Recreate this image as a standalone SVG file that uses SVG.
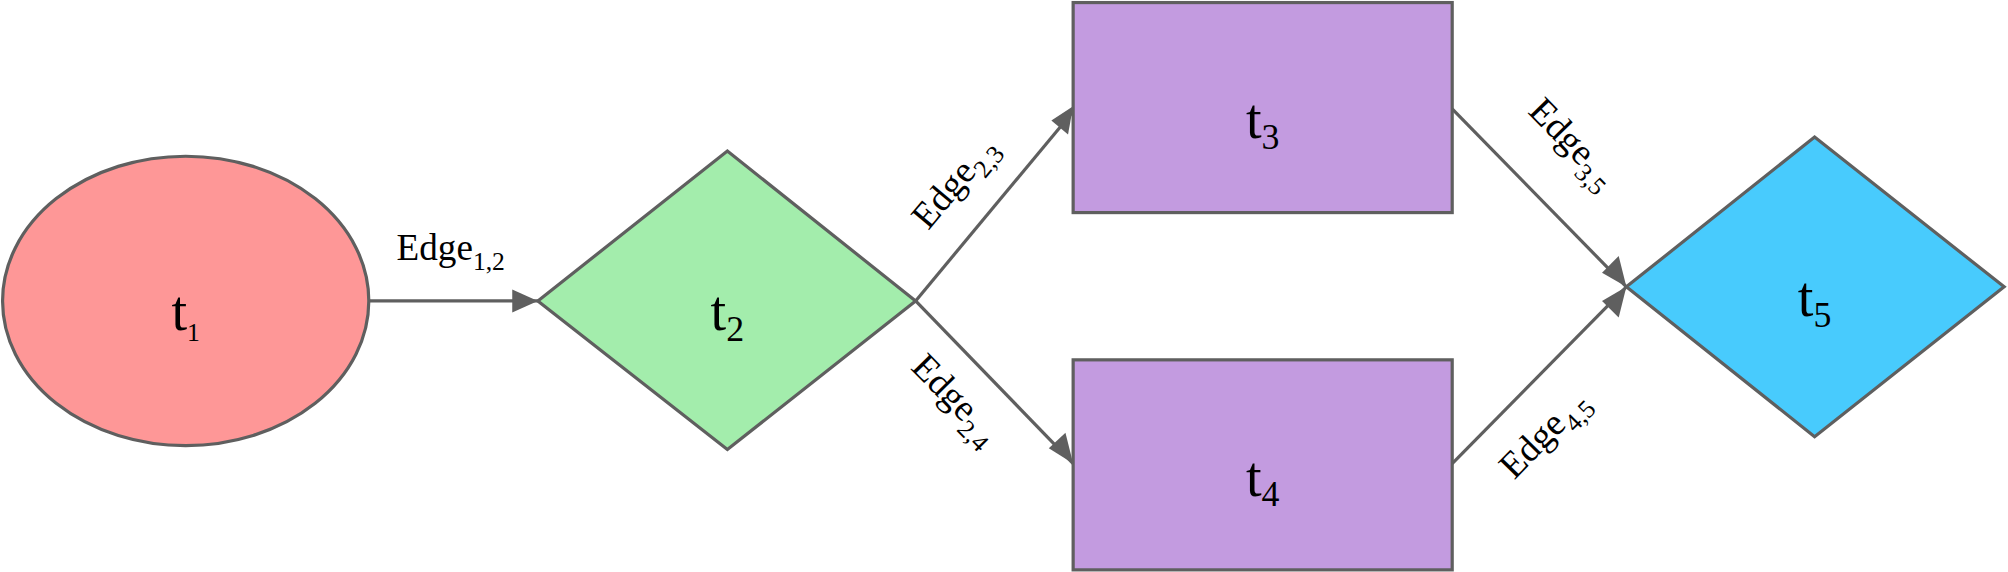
<svg xmlns="http://www.w3.org/2000/svg" width="2008" height="572" viewBox="0 0 2008 572">
<style>
.n{stroke:#5f5f5f;stroke-width:2.5}
.c{stroke:#5f5f5f;stroke-width:2.5;fill:none;marker-end:url(#a)}
.t{font-family:"Liberation Serif",serif;font-size:44px;text-anchor:middle;fill:#000}
.e{font-family:"Liberation Serif",serif;font-size:29px;text-anchor:middle;fill:#000}
.s{font-size:20px}
</style>
<defs><marker id="a" viewBox="0 0 10 10" refX="10" refY="5" markerWidth="7" markerHeight="7" markerUnits="userSpaceOnUse" orient="auto"><path d="M0,0L10,5L0,10z" fill="#5f5f5f" transform="scale(1)"/></marker></defs>
<rect width="2008" height="572" fill="#fff"/>
<g transform="scale(1.2806)">
<defs/>
<g id="connectors">
<line class="c" x1="288" y1="235" x2="420" y2="235" style="marker-end:none"/>
<path d="M400,226L420,235L400,244z" fill="#5f5f5f"/>
<line x1="715" y1="235" x2="838" y2="87" stroke="#5f5f5f" stroke-width="2.5"/>
<path d="M838,83L834,105L821,94z" fill="#5f5f5f"/>
<line x1="715" y1="235" x2="838" y2="362" stroke="#5f5f5f" stroke-width="2.5"/>
<path d="M838,362L819,350L832,338z" fill="#5f5f5f"/>
<line x1="1134" y1="85" x2="1270" y2="224" stroke="#5f5f5f" stroke-width="2.5"/>
<path d="M1270,224L1251,213L1264,200z" fill="#5f5f5f"/>
<line x1="1134" y1="362" x2="1270" y2="224" stroke="#5f5f5f" stroke-width="2.5"/>
<path d="M1270,224L1264,248L1251,235z" fill="#5f5f5f"/>
<text class="e" x="352" y="203">Edge<tspan class="s" dy="8">1,2</tspan></text>
<text class="e" transform="translate(752,148) rotate(-50)">Edge<tspan class="s" dy="8">2,3</tspan></text>
<text class="e" transform="translate(740,318) rotate(45.5)">Edge<tspan class="s" dy="8">2,4</tspan></text>
<text class="e" transform="translate(1222,118) rotate(45.6)">Edge<tspan class="s" dy="8">3,5</tspan></text>
<text class="e" transform="translate(1212,345) rotate(-45.6)">Edge<tspan class="s" dy="8">4,5</tspan></text>
</g>
<g id="t1"><ellipse class="n" cx="145" cy="235" rx="143" ry="113" fill="#fe9797"/><text class="t" x="145" y="258">t<tspan class="s" font-size="28" dy="8">1</tspan></text></g>
<g id="t2"><polygon class="n" points="420,235 568,118 715,235 568,351" fill="#a3edac"/><text class="t" x="568" y="258">t<tspan font-size="28" dy="8">2</tspan></text></g>
<g id="t3"><rect class="n" x="838" y="2" width="296" height="164" fill="#c39be0"/><text class="t" x="986" y="108">t<tspan font-size="28" dy="8">3</tspan></text></g>
<g id="t4"><rect class="n" x="838" y="281" width="296" height="164" fill="#c39be0"/><text class="t" x="986" y="387">t<tspan font-size="28" dy="8">4</tspan></text></g>
<g id="t5"><polygon class="n" points="1270,224 1417,107 1565,224 1417,341" fill="#48cbfd"/><text class="t" x="1417" y="247">t<tspan font-size="28" dy="8">5</tspan></text></g>
</g>
</svg>
